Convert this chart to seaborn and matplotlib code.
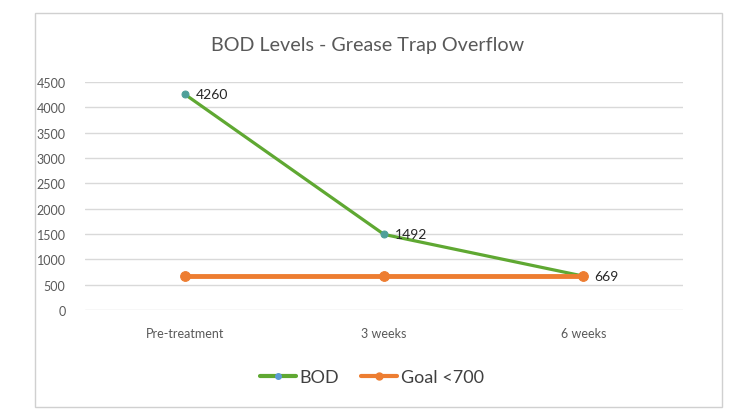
import matplotlib
matplotlib.use("Agg")
import matplotlib.pyplot as plt
from matplotlib.patches import Rectangle
from matplotlib.lines import Line2D
import seaborn as sns
import pandas as pd

categories = ["Pre-treatment", "3 weeks", "6 weeks"]
bod_values = [4260, 1492, 669]
goal_values = [675, 675, 675]
bod_labels = ["4260", "1492", "669"]
y_ticks = [0, 500, 1000, 1500, 2000, 2500, 3000, 3500, 4000, 4500]

sns.set_theme(style="white")
plt.rcParams["font.family"] = ["Lato", "DejaVu Sans"]

fig = plt.figure(figsize=(7.36, 4.14), dpi=100)
fig.patch.set_facecolor("white")
fig.add_artist(Rectangle((35/736, 1-408/414), (722-35)/736, (408-14)/414,
                         transform=fig.transFigure, fill=False,
                         edgecolor="#D0D0D0", lw=1))

ax = fig.add_axes([85/736, 1-311/414, (683-85)/736, (311-83)/414])

green = "#5FA832"
orange = "#ED7D31"
marker_blue = "#4FA09A"
txt = "#595959"

df_goal = pd.DataFrame({"cat": categories, "val": goal_values})
df_bod = pd.DataFrame({"cat": categories, "val": bod_values})

sns.lineplot(data=df_bod, x="cat", y="val", ax=ax, color=green, lw=2.3,
             marker="o", markersize=5, markerfacecolor=marker_blue,
             markeredgecolor=marker_blue, sort=False, zorder=3)
sns.lineplot(data=df_goal, x="cat", y="val", ax=ax, color=orange, lw=3.5,
             marker="o", markersize=7, markeredgecolor=orange, sort=False, zorder=4)

for i, (v, lab) in enumerate(zip(bod_values, bod_labels)):
    ax.annotate(lab, (i, v), xytext=(8, 0), textcoords="offset points",
                va="center", ha="left", fontsize=10, color="#262626", zorder=5)

ax.set_xlim(-0.5, 2.5)
ax.set_ylim(0, 4500)
ax.set_yticks(y_ticks)
ax.yaxis.grid(True, color="#D9D9D9", lw=1)
ax.xaxis.grid(False)
for s in ax.spines.values():
    s.set_visible(False)
ax.tick_params(axis="both", length=0, labelsize=9, colors=txt)
ax.tick_params(axis="y", pad=14)
ax.tick_params(axis="x", pad=12)
ax.set_xlabel("")
ax.set_ylabel("")

fig.text(0.5, 1-45/414, "BOD Levels - Grease Trap Overflow", ha="center",
         va="center", fontsize=14.2, color=txt)

handles = [Line2D([], [], color=green, lw=3, marker="o", markersize=4,
                  markerfacecolor="#5B9BD5", markeredgecolor="#5B9BD5"),
           Line2D([], [], color=orange, lw=3, marker="o", markersize=5)]
fig.legend(handles, ["BOD", "Goal <700"], loc="center",
           bbox_to_anchor=(372/736, 1-378/414), ncol=2, frameon=False,
           fontsize=13, handlelength=2.0, handletextpad=0.2, columnspacing=1.2,
           labelcolor="#404040")

fig.savefig("out.png", dpi=100)
